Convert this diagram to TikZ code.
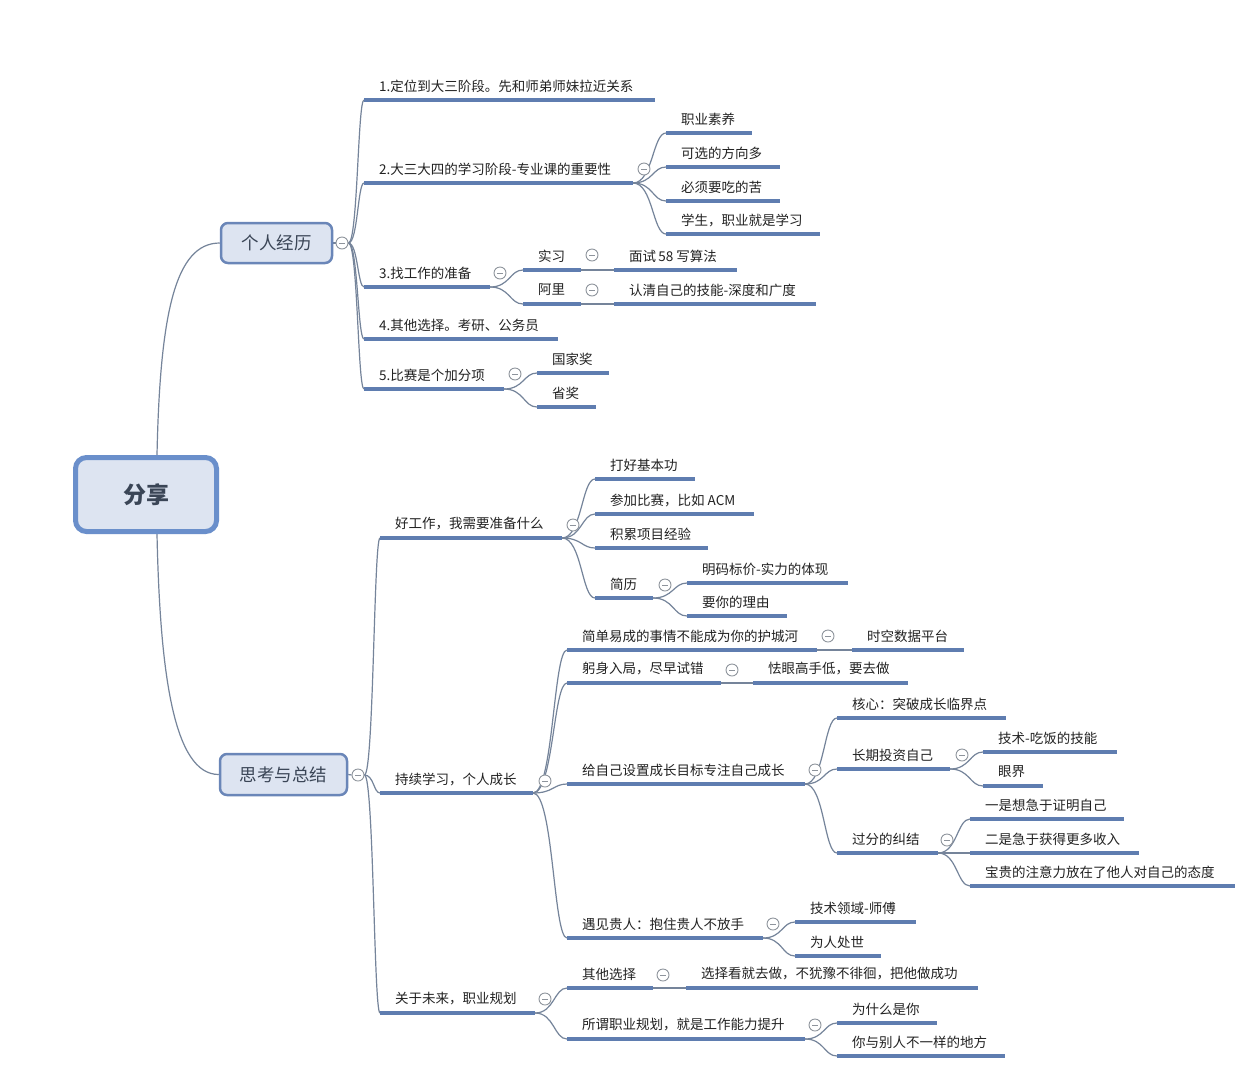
\documentclass[tikz,border=0pt]{standalone}
\usepackage{fontspec}
\setmainfont{Noto Sans CJK SC}
\usetikzlibrary{calc}
\pgfdeclarelayer{bg}
\pgfsetlayers{bg,main}
\definecolor{ulc}{HTML}{5F7DB0}
\definecolor{connc}{HTML}{75849A}
\definecolor{boxfill}{HTML}{DDE4F1}
\definecolor{boxdraw}{HTML}{6A86B8}
\definecolor{rootdraw}{HTML}{6A8FCB}
\definecolor{txtc}{HTML}{222222}
\definecolor{boxtxt}{HTML}{3A4556}
\definecolor{circc}{HTML}{8E949C}
\tikzset{
  uline/.style={line width=4pt, draw=ulc},
  conn/.style={line width=1.2pt, draw=connc},
  txt/.style={anchor=west, inner sep=0pt, font=\fontsize{13.5}{16}\selectfont, text=txtc},
  mainbox/.style={draw=boxdraw, fill=boxfill, line width=2.5pt, rounded corners=7pt, text=boxtxt, font=\fontsize{17.5}{20}\selectfont, inner sep=0pt},
  rootbox/.style={draw=rootdraw, fill=boxfill, line width=5pt, rounded corners=11pt, text=boxtxt, font=\bfseries\fontsize{23}{26}\selectfont, inner sep=0pt},
  collapse/.style={circle, draw=circc, line width=0.9pt, fill=white, minimum size=12pt, inner sep=0pt,
    path picture={\draw[circc, line width=0.9pt] ([xshift=-3pt]path picture bounding box.center) -- ([xshift=3pt]path picture bounding box.center);}},
}
\newcommand\mmtopic[5]{%
  \coordinate (#1s) at (#2,#4);
  \coordinate (#1e) at (#3,#4);
  \draw[uline] (#1s) -- (#1e);
  \node[txt] (#1) at ($(#1s)+(15,-14)$) {#5};
}
\newcommand\mmcirc[3]{\node[collapse] (#1) at (#2,#3) {};}
\newcommand\mmconn[2]{%
  \begin{pgfonlayer}{bg}
  \draw[conn] (#1) .. controls ($(#1)!0.6!(#2|-#1)$) and ($(#1|-#2)!0.6!(#2)$) .. (#2);
  \end{pgfonlayer}
}
\begin{document}
\begin{tikzpicture}[x=1pt,y=-1pt]
\begin{pgfonlayer}{bg}
\fill[white] (0,0) rectangle (1253,1080);
\end{pgfonlayer}
\useasboundingbox (0,0) rectangle (1253,1080);

% main boxes
\node[rootbox, minimum width=141pt, minimum height=74pt] (root) at (146,494.5) {分享};
\node[mainbox, minimum width=111pt, minimum height=40pt] (ga) at (276.5,243) {个人经历};
\node[mainbox, minimum width=127pt, minimum height=41pt] (gb) at (283.5,774.5) {思考与总结};
\mmcirc{gac}{342}{243}
\mmcirc{gbc}{358}{775}

% group A
\mmtopic{a1}{364}{655}{100}{1.定位到大三阶段。先和师弟师妹拉近关系}
\mmtopic{a2}{364}{633}{183}{2.大三大四的学习阶段-专业课的重要性}
\mmcirc{a2c}{644}{169}
\mmtopic{a21}{666}{752}{133}{职业素养}
\mmtopic{a22}{666}{780}{167}{可选的方向多}
\mmtopic{a23}{666}{780}{201}{必须要吃的苦}
\mmtopic{a24}{666}{820}{234}{学生，职业就是学习}
\mmtopic{a3}{364}{490}{287}{3.找工作的准备}
\mmcirc{a3c}{500}{273}
\mmtopic{a31}{523}{581}{270}{实习}
\mmcirc{a31c}{592}{255}
\mmtopic{a311}{614}{737}{270}{面试\,58 写算法}
\mmtopic{a32}{523}{581}{304}{阿里}
\mmcirc{a32c}{592}{290}
\mmtopic{a321}{614}{816}{304}{认清自己的技能-深度和广度}
\mmtopic{a4}{364}{558}{339}{4.其他选择。考研、公务员}
\mmtopic{a5}{364}{504}{389}{5.比赛是个加分项}
\mmcirc{a5c}{515}{374}
\mmtopic{a51}{537}{609}{373}{国家奖}
\mmtopic{a52}{537}{596}{407}{省奖}

% group B
\mmtopic{b1}{380}{562}{538}{好工作，我需要准备什么}
\mmcirc{b1c}{573}{525}
\mmtopic{b11}{595}{695}{479}{打好基本功}
\mmtopic{b12}{595}{754}{514}{参加比赛，比如 ACM}
\mmtopic{b13}{595}{708}{548}{积累项目经验}
\mmtopic{b14}{595}{653}{598}{简历}
\mmcirc{b14c}{665}{585}
\mmtopic{b141}{687}{848}{583}{明码标价-实力的体现}
\mmtopic{b142}{687}{787}{616}{要你的理由}

\mmtopic{b2}{380}{533}{793}{持续学习，个人成长}
\mmcirc{b2c}{545}{781}
\mmtopic{b21}{567}{817}{650}{简单易成的事情不能成为你的护城河}
\mmcirc{b21c}{828}{636}
\mmtopic{b211}{852}{964}{650}{时空数据平台}
\mmtopic{b22}{567}{721}{683}{躬身入局，尽早试错}
\mmcirc{b22c}{732}{670}
\mmtopic{b221}{753}{908}{683}{怯眼高手低，要去做}
\mmtopic{b23}{567}{805}{784}{给自己设置成长目标专注自己成长}
\mmcirc{b23c}{815}{770}
\mmtopic{b231}{837}{1006}{718}{核心：突破成长临界点}
\mmtopic{b232}{837}{950}{769}{长期投资自己}
\mmcirc{b232c}{962}{755}
\mmtopic{b2321}{983}{1117}{752}{技术-吃饭的技能}
\mmtopic{b2322}{983}{1043}{786}{眼界}
\mmtopic{b233}{837}{938}{853}{过分的纠结}
\mmcirc{b233c}{947}{840}
\mmtopic{b2331}{970}{1124}{819}{一是想急于证明自己}
\mmtopic{b2332}{970}{1139}{853}{二是急于获得更多收入}
\mmtopic{b2333}{970}{1235}{886}{宝贵的注意力放在了他人对自己的态度}
\mmtopic{b24}{567}{763}{938}{遇见贵人：抱住贵人不放手}
\mmcirc{b24c}{773}{924}
\mmtopic{b241}{795}{916}{922}{技术领域-师傅}
\mmtopic{b242}{795}{881}{956}{为人处世}

\mmtopic{b3}{380}{535}{1013}{关于未来，职业规划}
\mmcirc{b3c}{545}{999}
\mmtopic{b31}{567}{653}{988}{其他选择}
\mmcirc{b31c}{663}{975}
\mmtopic{b311}{686}{978}{988}{选择看就去做，不犹豫不徘徊，把他做成功}
\mmtopic{b32}{567}{805}{1039}{所谓职业规划，就是工作能力提升}
\mmcirc{b32c}{815}{1025}
\mmtopic{b321}{837}{937}{1023}{为什么是你}
\mmtopic{b322}{837}{1005}{1056}{你与别人不一样的地方}

% connectors
\begin{pgfonlayer}{bg}
\draw[conn] ([xshift=11pt]root.north) .. controls +(3,-140) and +(-45,0) .. (ga.west);
\draw[conn] ([xshift=11pt]root.south) .. controls +(3,140) and +(-45,0) .. (gb.west);
\draw[conn] (ga.east) -- (gac.west);
\draw[conn] (gb.east) -- (gbc.west);
\end{pgfonlayer}
\foreach \c in {a1,a2,a3,a4,a5} {\mmconn{gac.east}{\c s}}
\foreach \c in {a21,a22,a23,a24} {\mmconn{a2e}{\c s}}
\foreach \c in {a31,a32} {\mmconn{a3e}{\c s}}
\mmconn{a31e}{a311s}
\mmconn{a32e}{a321s}
\foreach \c in {a51,a52} {\mmconn{a5e}{\c s}}
\foreach \c in {b1,b2,b3} {\mmconn{gbc.east}{\c s}}
\foreach \c in {b11,b12,b13,b14} {\mmconn{b1e}{\c s}}
\foreach \c in {b141,b142} {\mmconn{b14e}{\c s}}
\foreach \c in {b21,b22,b23,b24} {\mmconn{b2e}{\c s}}
\mmconn{b21e}{b211s}
\mmconn{b22e}{b221s}
\foreach \c in {b231,b232,b233} {\mmconn{b23e}{\c s}}
\foreach \c in {b2321,b2322} {\mmconn{b232e}{\c s}}
\foreach \c in {b2331,b2332,b2333} {\mmconn{b233e}{\c s}}
\foreach \c in {b241,b242} {\mmconn{b24e}{\c s}}
\foreach \c in {b31,b32} {\mmconn{b3e}{\c s}}
\mmconn{b31e}{b311s}
\foreach \c in {b321,b322} {\mmconn{b32e}{\c s}}
\end{tikzpicture}
\end{document}
